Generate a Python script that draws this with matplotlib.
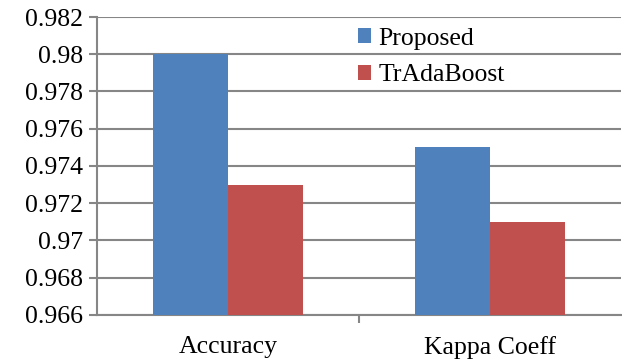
import matplotlib
matplotlib.use("Agg")
import matplotlib.pyplot as plt
import numpy as np

categories = ["Accuracy", "Kappa Coeff"]
series_names = ["Proposed", "TrAdaBoost"]
proposed = [0.980, 0.975]
tradaboost = [0.973, 0.971]
yticks = [0.966, 0.968, 0.97, 0.972, 0.974, 0.976, 0.978, 0.98, 0.982]
ytick_labels = ["0.966", "0.968", "0.97", "0.972", "0.974", "0.976", "0.978", "0.98", "0.982"]

plt.rcParams["font.family"] = ["Liberation Serif", "DejaVu Serif"]
FS = 18.5
grid_col = "#868686"

fig = plt.figure(figsize=(6.22, 3.62), dpi=100)
ax = fig.add_axes([0.156, 0.130, 0.842, 0.823])

x = np.arange(len(categories))
w = 0.286
base = yticks[0]
ax.bar(x - w / 2, np.array(proposed) - base, w, bottom=base, color="#4F81BD", label=series_names[0], zorder=3)
ax.bar(x + w / 2, np.array(tradaboost) - base, w, bottom=base, color="#C0504D", label=series_names[1], zorder=3)

ax.set_xlim(-0.5, 1.5)
ax.set_ylim(yticks[0], yticks[-1])
ax.set_yticks(yticks)
ax.set_yticklabels(ytick_labels, fontsize=FS)
ax.set_xticks(x)
ax.set_xticklabels(categories, fontsize=FS)
ax.tick_params(axis="x", length=0, pad=15)
ax.tick_params(axis="y", length=6, width=1.5, color=grid_col, pad=4)
# category separator tick on the x axis
ax.set_xticks([0.5], minor=True)
ax.tick_params(axis="x", which="minor", length=6, width=1.5, color=grid_col)

for yv in yticks:
    ax.axhline(yv, color=grid_col, lw=1.5, zorder=1)

for s in ["top", "right"]:
    ax.spines[s].set_visible(False)
for s in ["left", "bottom"]:
    ax.spines[s].set_color(grid_col)
    ax.spines[s].set_linewidth(1.5)

leg = ax.legend(loc="upper left", bbox_to_anchor=(0.538, 0.987), bbox_transform=fig.transFigure,
                frameon=False, fontsize=FS, handlelength=0.5, handleheight=0.5,
                handletextpad=0.3, labelspacing=0.57)

fig.savefig("out.png", dpi=100)
